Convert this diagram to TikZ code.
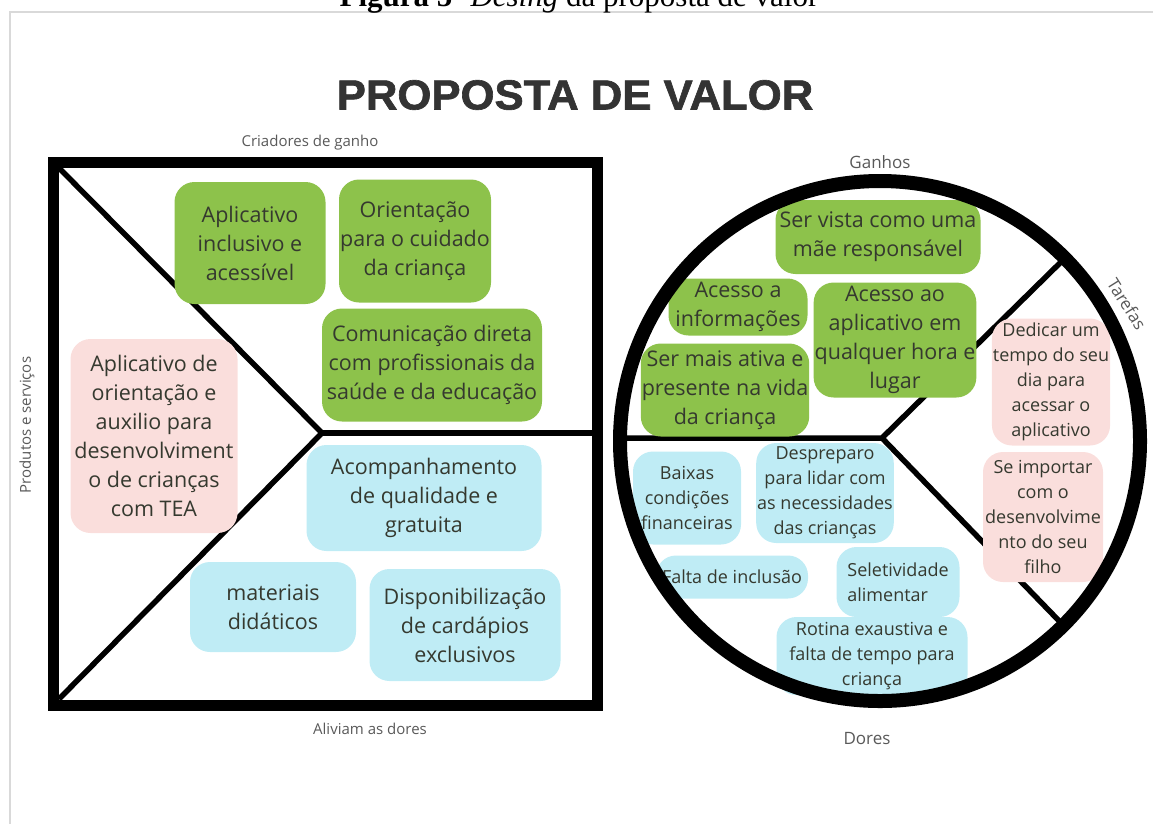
\documentclass[tikz,border=0pt]{standalone}
\usepackage{fontspec}
\setmainfont{Open Sans}
\newfontfamily\capfont{Liberation Serif}
\newfontfamily\titlefont[BoldFeatures={FakeBold=1.5}]{Liberation Sans}
\usepackage[rgb]{xcolor}
\definecolor{verde}{HTML}{8DC24B}
\definecolor{azul}{HTML}{BFECF5}
\definecolor{rosa}{HTML}{FADEDC}
\definecolor{texto}{HTML}{35392F}

\begin{document}
\begin{tikzpicture}[x=1pt, y=-1pt,
  caixa/.style={rounded corners=20, align=center, text=texto, inner sep=1pt,
    font=\fontsize{21.5}{29}\selectfont},
  miuda/.style={font=\fontsize{18}{25}\selectfont},
  ganho/.style={caixa, fill=verde},
  alivio/.style={caixa, fill=azul},
  produto/.style={caixa, fill=rosa},
  rotulo/.style={text=black!65, font=\fontsize{15}{18}\selectfont},
  divisa/.style={line width=5.5, line join=miter}]

\useasboundingbox (0,0) rectangle (1153,823);

% page frame, caption and title
\draw[black!15, line width=2] (10,830) -- (10,12) -- (1160,12);
\node[anchor=base] (legenda) at (579,6)
  {\capfont\fontsize{31}{31}\selectfont\textbf{Figura 5}- \textit{Desing} da proposta de valor};
\node[text=black!80, xscale=1.04] (titulo) at (575,95)
  {\titlefont\bfseries\fontsize{42}{42}\selectfont PROPOSTA DE VALOR};

\path
(310,143) node[rotulo] (criadores) {Criadores de ganho}
(370,729) node[rotulo] (aliviam) {Aliviam as dores}
(27,425) node[rotulo, rotate=90] (produtos) {Produtos e serviços}
(880,162) node[rotulo, font=\fontsize{17}{20}\selectfont] (ganhos) {Ganhos}
(867,738) node[rotulo, font=\fontsize{17}{20}\selectfont] (dores) {Dores}
(1127,304) node[rotulo, rotate=-58, inner sep=0pt, font=\fontsize{17}{20}\selectfont] (tarefas) {Tarefas};

% square: products, gain creators, pain relievers
\coordinate (meio) at (322,433);
\draw[line width=11] (53,162) rectangle (597,705);
\draw[divisa] (59,168) -- (meio) -- (59,699);
\draw[divisa] (meio) -- (593,433);

% circle: gains, jobs, pains
\coordinate (roda) at (880,441);
\coordinate (eixo) at (882,438);
\draw[divisa] (622,438) -- (eixo) -- (1064,259);
\draw[divisa] (eixo) -- (1064,626);

\path
(250,243) node[ganho, minimum width=151, minimum height=122] (inclusivo) {Aplicativo\\inclusivo e\\acessível}
(415,241) node[ganho, minimum width=152, minimum height=123] (orientacao) {Orientação\\para o cuidado\\da criança}
(432,365) node[ganho, minimum width=220, minimum height=113] (comunicacao) {Comunicação direta\\com profissionais da\\saúde e da educação}
(154,436) node[produto, minimum width=167, minimum height=194] (app) {Aplicativo de\\orientação e\\auxilio para\\desenvolviment\\o de crianças\\com TEA}
(424,498) node[alivio, minimum width=235, minimum height=106] (acompanhamento) {Acompanhamento\\de qualidade e\\gratuita}
(273,607) node[alivio, minimum width=166, minimum height=90] (materiais) {materiais\\didáticos}
(465,625) node[alivio, minimum width=191, minimum height=112] (cardapios) {Disponibilização\\de cardápios\\exclusivos};

\path
(878,237) node[ganho, minimum width=205, minimum height=74] (vista) {Ser vista como uma\\mãe responsável}
(738,307) node[ganho, minimum width=139, minimum height=57] (informacoes) {Acesso a\\informações}
(895,340) node[ganho, minimum width=153, minimum height=115] (acesso) {Acesso ao\\aplicativo em\\qualquer hora e\\lugar}
(725,390) node[ganho, minimum width=167, minimum height=93] (ativa) {Ser mais ativa e\\presente na vida\\da criança}
(1051,382) node[produto, miuda, minimum width=118, minimum height=127] (dedicar) {Dedicar um\\tempo do seu\\dia para\\acessar o\\aplicativo}
(1043,517) node[produto, miuda, minimum width=120, minimum height=130] (importar) {Se importar\\com o\\desenvolvime\\nto do seu\\filho}
(687,498) node[alivio, miuda, minimum width=108, minimum height=93] (baixas) {Baixas\\condições\\financeiras}
(825,493) node[alivio, miuda, minimum width=133, minimum height=100] (despreparo) {Despreparo\\para lidar com\\as necessidades\\das crianças}
(732,577) node[alivio, miuda, minimum width=152, minimum height=43] (inclusao) {Falta de inclusão}
(898,582) node[alivio, miuda, align=left, minimum width=123, minimum height=70] (seletividade) {Seletividade\\alimentar}
(872,656) node[alivio, miuda, minimum width=191, minimum height=78] (rotina) {Rotina exaustiva e\\falta de tempo para\\criança};

\draw[line width=14] (roda) circle (260);

\end{tikzpicture}
\end{document}
